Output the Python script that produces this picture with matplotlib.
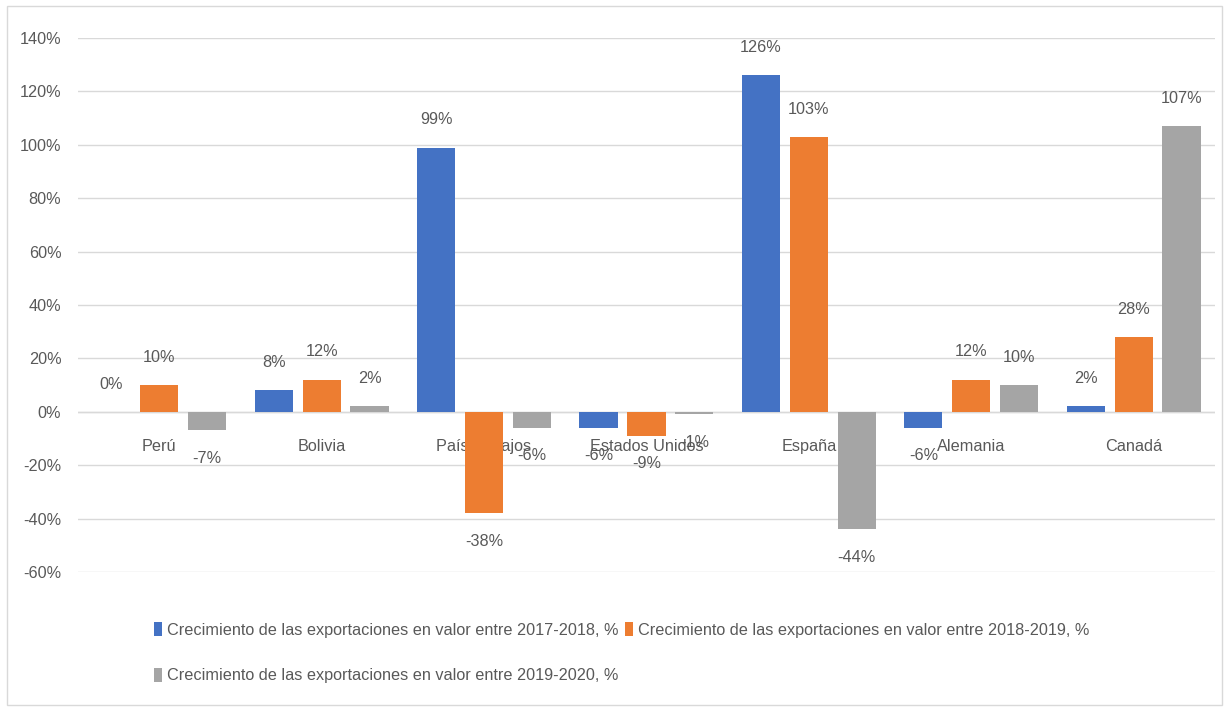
import matplotlib.pyplot as plt
from matplotlib.patches import Rectangle
from matplotlib.ticker import FuncFormatter
import numpy as np

plt.rcParams['font.family'] = ['Liberation Sans', 'DejaVu Sans']

paises = ['Perú', 'Bolivia', 'Países Bajos', 'Estados Unidos', 'España', 'Alemania', 'Canadá']
crec_2017_2018 = [0, 8, 99, -6, 126, -6, 2]
crec_2018_2019 = [10, 12, -38, -9, 103, 12, 28]
crec_2019_2020 = [-7, 2, -6, -1, -44, 10, 107]
series_labels = [
    'Crecimiento de las exportaciones en valor entre 2017-2018, %',
    'Crecimiento de las exportaciones en valor entre 2018-2019, %',
    'Crecimiento de las exportaciones en valor entre 2019-2020, %',
]
colores = ['#4472C4', '#ED7D31', '#A5A5A5']
TEXT = '#595959'
FS = 11.7

fig = plt.figure(figsize=(12.29, 7.11), dpi=100)
# chart border
fig.patches.append(Rectangle((0.006, 0.008), 0.988, 0.984, transform=fig.transFigure,
                             fill=False, edgecolor='#d9d9d9', linewidth=1))
ax = fig.add_axes([0.0635, 0.1955, 0.925, 0.751])

x = np.arange(len(paises))
w = 0.235
offsets = [-0.295, 0, 0.295]
handles = []
for vals, off, col, lab in zip([crec_2017_2018, crec_2018_2019, crec_2019_2020], offsets, colores, series_labels):
    bars = ax.bar(x + off, vals, w, color=col, label=lab, zorder=3)
    handles.append(bars)
    for b, v in zip(bars, vals):
        dy = 20 if v >= 0 else -20
        ax.annotate(f'{v}%', (b.get_x() + b.get_width() / 2, v), xytext=(0, dy),
                    textcoords='offset points', ha='center', va='center',
                    fontsize=FS, color=TEXT, zorder=4)

ax.set_ylim(-60, 140)
ax.set_xlim(-0.5, len(paises) - 0.5)
ax.set_yticks(np.arange(-60, 141, 20))
ax.yaxis.set_major_formatter(FuncFormatter(lambda v, p: f'{v:.0f}%'))
ax.grid(axis='y', color='#d9d9d9', linewidth=1, zorder=0)
ax.axhline(0, color='#d9d9d9', linewidth=1, zorder=1)
for s in ['top', 'right', 'left']:
    ax.spines[s].set_visible(False)
ax.spines['bottom'].set_position(('data', 0))
ax.spines['bottom'].set_visible(False)
ax.set_xticks(x)
ax.set_xticklabels(paises)
ax.tick_params(axis='x', length=0, pad=19.5, labelsize=FS, labelcolor=TEXT)
ax.tick_params(axis='y', length=0, pad=12, labelsize=FS, labelcolor=TEXT)

leg = fig.legend([handles[0], handles[2], handles[1]],
                 [series_labels[0], series_labels[2], series_labels[1]],
                 ncol=2, loc='upper left', bbox_to_anchor=(0.119, 0.137),
                 frameon=False, fontsize=FS, labelcolor=TEXT,
                 handlelength=0.45, handleheight=1.0, handletextpad=0.35,
                 columnspacing=0.4, labelspacing=1.85, borderpad=0)

fig.savefig('out.png', dpi=100)
